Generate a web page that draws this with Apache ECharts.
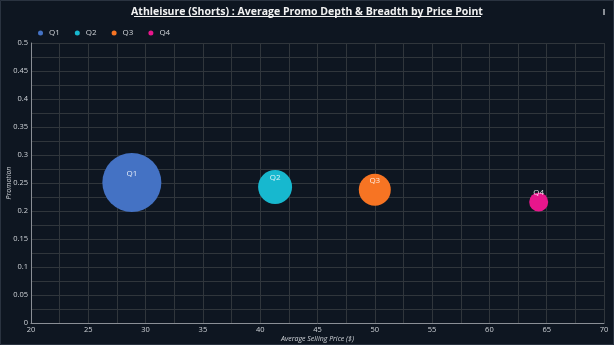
<!DOCTYPE html>
<html><head><meta charset="utf-8">
<script src="https://cdn.jsdelivr.net/npm/echarts@6/dist/echarts.min.js"></script>
<style>html,body{margin:0;padding:0;background:#0e1621;}#c{width:614px;height:345px;}</style>
</head><body><div id="c"></div>
<script>
const categories = ['Q1', 'Q2', 'Q3', 'Q4'];
const avgPrice = [28.8, 41.3, 50.0, 64.3];
const promotion = [0.251, 0.243, 0.238, 0.216];
const breadth = [0.59, 0.34, 0.32, 0.19];
const colors = ['#4472c4', '#17b8cf', '#f77423', '#e8168c'];
const xTicks = [20, 70, 5];
const yTicks = [0, 0.5, 0.05];

const chart = echarts.init(document.getElementById('c'));
const series = categories.map((q, i) => ({
  name: q,
  type: 'scatter',
  data: [[avgPrice[i], promotion[i], breadth[i]]],
  symbolSize: d => d[2] * 100,
  itemStyle: { color: colors[i], opacity: 1 },
  label: { show: true, position: 'inside', offset: [0, -9], formatter: q, color: 'rgba(255,255,255,0.85)', fontSize: 8, fontFamily: 'Open Sans' }
}));
chart.setOption({
  backgroundColor: '#0e1621',
  title: {
    text: 'Athleisure (Shorts) : Average Promo Depth & Breadth by Price Point',
    left: 'center', top: 2,
    textStyle: { color: '#f2f2f2', fontSize: 10.5, fontWeight: 'bold', fontFamily: 'Open Sans' }
  },
  legend: {
    data: categories, left: 33, top: 24, icon: 'circle', itemWidth: 5, itemHeight: 5, itemGap: 15,
    textStyle: { color: '#cfd3d8', fontSize: 8, fontFamily: 'Open Sans', padding: [0, 0, 0, 1] }
  },
  grid: { left: 31, right: 10, top: 43, bottom: 22, outerBoundsMode: 'none', containLabel: false },
  xAxis: {
    type: 'value', min: xTicks[0], max: xTicks[1], interval: xTicks[2],
    name: 'Average Selling Price ($)', nameLocation: 'middle', nameGap: 12, nameMoveOverlap: false,
    nameTextStyle: { color: '#cfd3d8', fontSize: 7, fontStyle: 'italic', fontFamily: 'Open Sans' },
    axisLine: { lineStyle: { color: '#8a8f96' } }, axisTick: { show: false },
    axisLabel: { color: '#cfd3d8', fontSize: 7.5, margin: 3, fontFamily: 'Open Sans' },
    splitLine: { lineStyle: { color: '#30363c' } },
    minorTick: { show: false, splitNumber: 2 },
    minorSplitLine: { show: true, lineStyle: { color: '#30363c' } }
  },
  yAxis: {
    type: 'value', min: yTicks[0], max: yTicks[1], interval: yTicks[2],
    name: 'Promotion', nameLocation: 'middle', nameGap: 19, nameMoveOverlap: false,
    nameTextStyle: { color: '#cfd3d8', fontSize: 7, fontStyle: 'italic', fontFamily: 'Open Sans' },
    axisLine: { show: true, lineStyle: { color: '#8a8f96' } }, axisTick: { show: false },
    axisLabel: { color: '#cfd3d8', fontSize: 7.5, margin: 3, fontFamily: 'Open Sans' },
    splitLine: { lineStyle: { color: '#30363c' } },
    minorTick: { show: false, splitNumber: 2 },
    minorSplitLine: { show: true, lineStyle: { color: '#30363c' } }
  },
  graphic: [
    { type: 'line', shape: { x1: 134, y1: 16.5, x2: 481, y2: 16.5 }, style: { stroke: '#f2f2f2', lineWidth: 1 } },
    { type: 'rect', shape: { x: 603, y: 9, width: 2, height: 6 }, style: { fill: '#8a8f96' } },
    { type: 'rect', shape: { x: 0.5, y: 0.5, width: 613, height: 344 }, style: { fill: 'none', stroke: '#2a3340', lineWidth: 1 } }
  ],
  series: series
});
</script></body></html>
